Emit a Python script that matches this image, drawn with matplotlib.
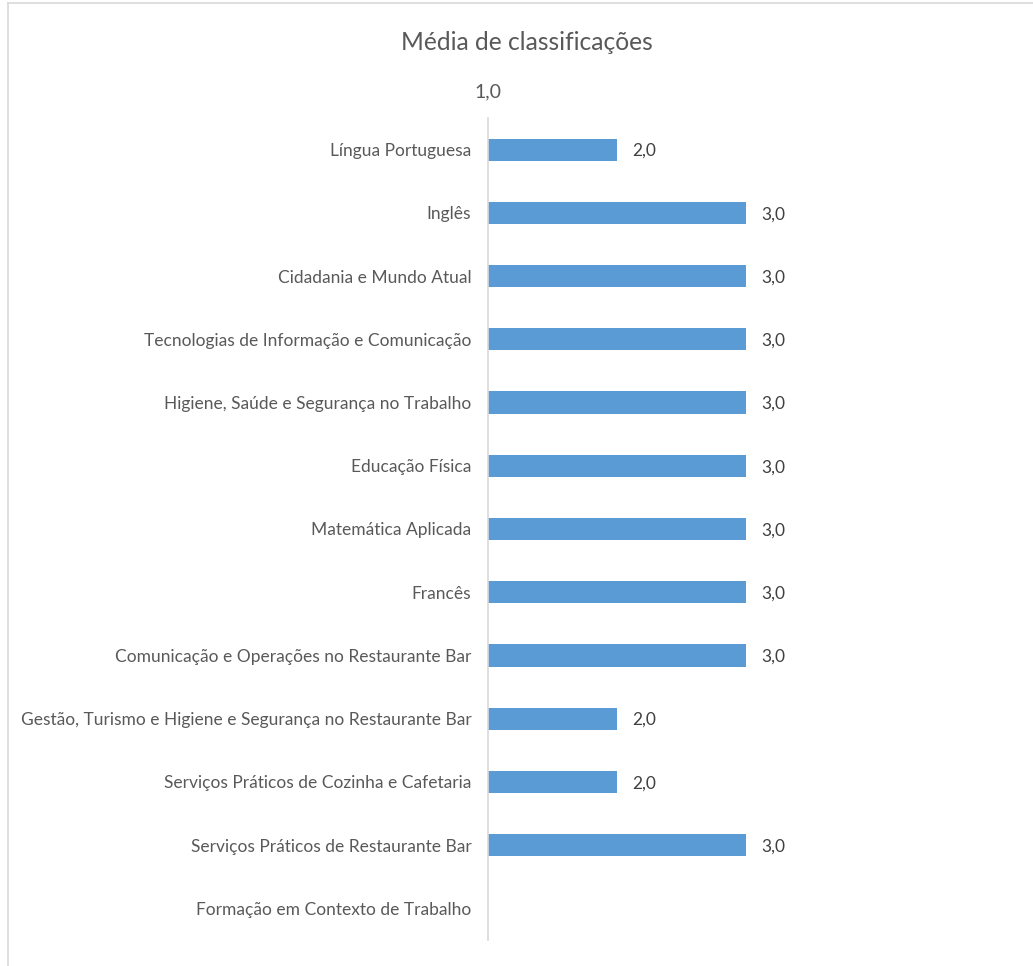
import numpy as np
import matplotlib
matplotlib.use("Agg")
import matplotlib.pyplot as plt
from matplotlib.lines import Line2D

# ============ DATA ============
categories = [
    "Língua Portuguesa",
    "Inglês",
    "Cidadania e Mundo Atual",
    "Tecnologias de Informação e Comunicação",
    "Higiene, Saúde e Segurança no Trabalho",
    "Educação Física",
    "Matemática Aplicada",
    "Francês",
    "Comunicação e Operações no Restaurante Bar",
    "Gestão, Turismo e Higiene e Segurança no Restaurante Bar",
    "Serviços Práticos de Cozinha e Cafetaria",
    "Serviços Práticos de Restaurante Bar",
    "Formação em Contexto de Trabalho",
]
values = [2.0, 3.0, 3.0, 3.0, 3.0, 3.0, 3.0, 3.0, 3.0, 2.0, 2.0, 3.0, np.nan]
axis_min = 1.0
axis_max = 5.0
title = "Média de classificações"

bar_color = "#5B9BD5"
text_color = "#595959"

plt.rcParams['font.family'] = ['Lato', 'DejaVu Sans']

fig = plt.figure(figsize=(10.33, 9.66), dpi=100)
ax = fig.add_axes([488 / 1033, 1 - 940 / 966, (1004 - 488) / 1033, (940 - 118) / 966])

y = np.arange(len(categories))
vals = np.array(values, dtype=float)
ax.barh(y, vals - axis_min, left=axis_min, height=0.35, color=bar_color)

for yi, v in zip(y, vals):
    if np.isnan(v):
        continue
    ax.annotate(f"{v:.1f}".replace(".", ","), xy=(v, yi), xytext=(11, -1),
                textcoords="offset points", va="center", ha="left",
                fontsize=12.5, color="#404040")

ax.set_ylim(len(categories) - 0.5, -0.5)
ax.set_xlim(axis_min, axis_max)
ax.set_yticks(y)
ax.set_yticklabels(categories, fontsize=12.5, color=text_color)
ax.set_xticks([axis_min])
ax.set_xticklabels([f"{axis_min:.1f}".replace(".", ",")], fontsize=14, color=text_color)
ax.xaxis.tick_top()
ax.tick_params(axis="both", length=0)
ax.tick_params(axis="y", pad=12)
ax.tick_params(axis="x", pad=13)

for s in ["top", "right", "bottom"]:
    ax.spines[s].set_visible(False)
ax.spines["left"].set_color("#D9D9D9")
ax.spines["left"].set_linewidth(1.2)

fig.text(527 / 1033, 1 - 42 / 966, title, ha="center", va="center",
         fontsize=17.7, color=text_color)

# chart border (only top and left visible in the crop)
fig.add_artist(Line2D([8 / 1033, 1], [1 - 3 / 966, 1 - 3 / 966], color="#D9D9D9", lw=1.2))
fig.add_artist(Line2D([8 / 1033, 8 / 1033], [0, 1 - 3 / 966], color="#D9D9D9", lw=1.2))

plt.savefig("out.png", dpi=100)
